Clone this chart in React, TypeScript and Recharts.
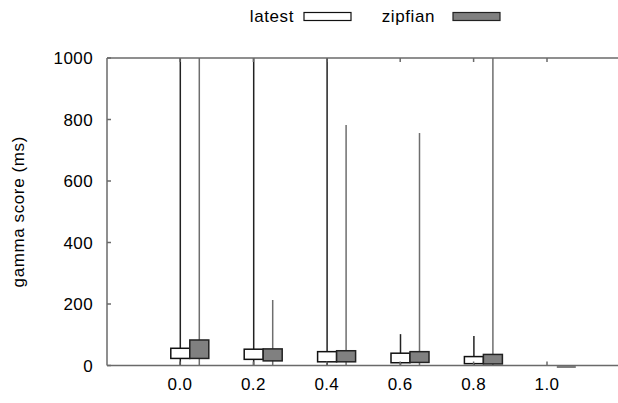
import React from 'react';
import { ComposedChart, Bar, XAxis, YAxis } from 'recharts';

// Write-fraction categories on the x axis
const categories = ['0.0', '0.2', '0.4', '0.6', '0.8', '1.0'];

// "latest" workload: whisker min, lower quartile, upper quartile, whisker max (ms)
const latestMin = [0, 0, 0, 0, 0, null];
const latestQ1 = [23, 20, 12, 9, 6, null];
const latestQ3 = [56, 53, 45, 40, 29, null];
const latestMax = [1000, 1000, 1000, 102, 96, null];

// "zipfian" workload (ms)
const zipfianMin = [0, 0, 0, 0, 0, 0];
const zipfianQ1 = [23, 15, 12, 10, 5, 0];
const zipfianQ3 = [83, 54, 48, 45, 36, 0];
const zipfianMax = [1000, 213, 782, 756, 1000, 0];

const yTicks = [0, 200, 400, 600, 800, 1000];
const seriesNames = ['latest', 'zipfian'];
const seriesFills = ['#ffffff', '#808080'];
const seriesStrokes = ['#111111', '#222222'];
const whiskerColors = ['#222222', '#6e6e6e'];

const FONT = '"Liberation Sans", Arial, Helvetica, sans-serif';

type Stat = { min: number; q1: number; q3: number; max: number } | null;

const pack = (mn: (number | null)[], a: (number | null)[], b: (number | null)[], mx: (number | null)[], i: number): Stat =>
  mn[i] == null ? null : { min: mn[i] as number, q1: a[i] as number, q3: b[i] as number, max: mx[i] as number };

const data = categories.map((cat, i) => ({
  cat,
  latest: pack(latestMin, latestQ1, latestQ3, latestMax, i),
  zipfian: pack(zipfianMin, zipfianQ1, zipfianQ3, zipfianMax, i),
}));

// Candlestick: whisker from min to max, box from Q1 to Q3
const makeBox = (key: 'latest' | 'zipfian', idx: number) => (props: any) => {
  const { x, y, width, height, payload } = props;
  const s: Stat = payload ? payload[key] : null;
  if (!s || x == null || y == null) return <g />;
  const span = s.max - s.min;
  const py = (v: number) => (span > 0 ? y + (height * (s.max - v)) / span : y);
  const cx = x + width; // box centred half a slot to the right
  const left = cx - width / 2;
  if (span === 0) {
    return (
      <g>
        <line x1={left} x2={left + width} y1={py(s.min) + 1.5} y2={py(s.min) + 1.5} stroke={seriesFills[idx]} strokeWidth={2} />
      </g>
    );
  }
  const top = py(s.q3);
  const bottom = py(s.q1);
  return (
    <g>
      <line x1={cx} x2={cx} y1={py(s.max)} y2={py(s.min)} stroke={whiskerColors[idx]} strokeWidth={1.5} />
      <rect x={left} y={top} width={width} height={Math.max(bottom - top, 0)} fill={seriesFills[idx]} stroke={seriesStrokes[idx]} strokeWidth={1.5} />
    </g>
  );
};

const Empty = () => <g />;

const tickStyle = { fill: '#000', stroke: 'none', fontSize: 17, fontFamily: FONT, letterSpacing: 0.4 };
const axisStroke = '#6a6a6a';

export default function App() {
  return (
    <div style={{ position: 'absolute', left: 0, top: 0, width: 618, height: 403, overflow: 'hidden', background: '#fff' }}>
      <ComposedChart
        width={640}
        height={403}
        data={data}
        margin={{ top: 57, right: 19, bottom: 7.5, left: 0 }}
        barGap={0}
        style={{ fontFamily: FONT }}
      >
        <XAxis
          dataKey="cat"
          height={30}
          padding={{ left: 36.3, right: 36.3 }}
          tickSize={-4}
          tickMargin={16}
          tick={tickStyle}
          stroke={axisStroke}
          strokeWidth={1.5}
        />
        <XAxis
          xAxisId="top"
          orientation="top"
          dataKey="cat"
          height={1}
          padding={{ left: 36.3, right: 36.3 }}
          tickSize={-4}
          tick={Empty}
          stroke={axisStroke}
          strokeWidth={1.5}
        />
        <YAxis
          width={107}
          type="number"
          domain={[0, 1000]}
          ticks={yTicks}
          interval={0}
          tickSize={-4}
          tickMargin={18}
          tick={tickStyle}
          stroke={axisStroke}
          strokeWidth={1.5}
          label={{
            value: 'gamma score (ms)',
            angle: -90,
            position: 'insideLeft',
            offset: 18,
            style: { textAnchor: 'middle', fill: '#000', stroke: 'none', fontSize: 17, letterSpacing: 0.6, fontFamily: FONT },
          }}
        />
        <YAxis
          yAxisId="right"
          orientation="right"
          width={1}
          type="number"
          domain={[0, 1000]}
          ticks={yTicks}
          interval={0}
          tickSize={-4}
          tick={Empty}
          stroke={axisStroke}
          strokeWidth={1.5}
        />
        <Bar
          name={seriesNames[0]}
          dataKey={(d: any) => (d.latest ? [d.latest.min, d.latest.max] : null)}
          barSize={19}
          shape={makeBox('latest', 0)}
          isAnimationActive={false}
        />
        <Bar
          name={seriesNames[1]}
          dataKey={(d: any) => (d.zipfian ? [d.zipfian.min, d.zipfian.max] : null)}
          barSize={19}
          shape={makeBox('zipfian', 1)}
          isAnimationActive={false}
        />
      </ComposedChart>
      <svg width={618} height={34} style={{ position: 'absolute', left: 0, top: 0 }}>
        <text x={294} y={22} textAnchor="end" fontSize={17} letterSpacing={0.6} fontFamily={FONT} fill="#000">{seriesNames[0]}</text>
        <rect x={304} y={12.5} width={47} height={8} fill={seriesFills[0]} stroke={seriesStrokes[0]} strokeWidth={1.2} />
        <text x={435} y={22} textAnchor="end" fontSize={17} letterSpacing={0.6} fontFamily={FONT} fill="#000">{seriesNames[1]}</text>
        <rect x={453} y={12.5} width={47} height={8} fill={seriesFills[1]} stroke={seriesStrokes[1]} strokeWidth={1.2} />
      </svg>
    </div>
  );
}
